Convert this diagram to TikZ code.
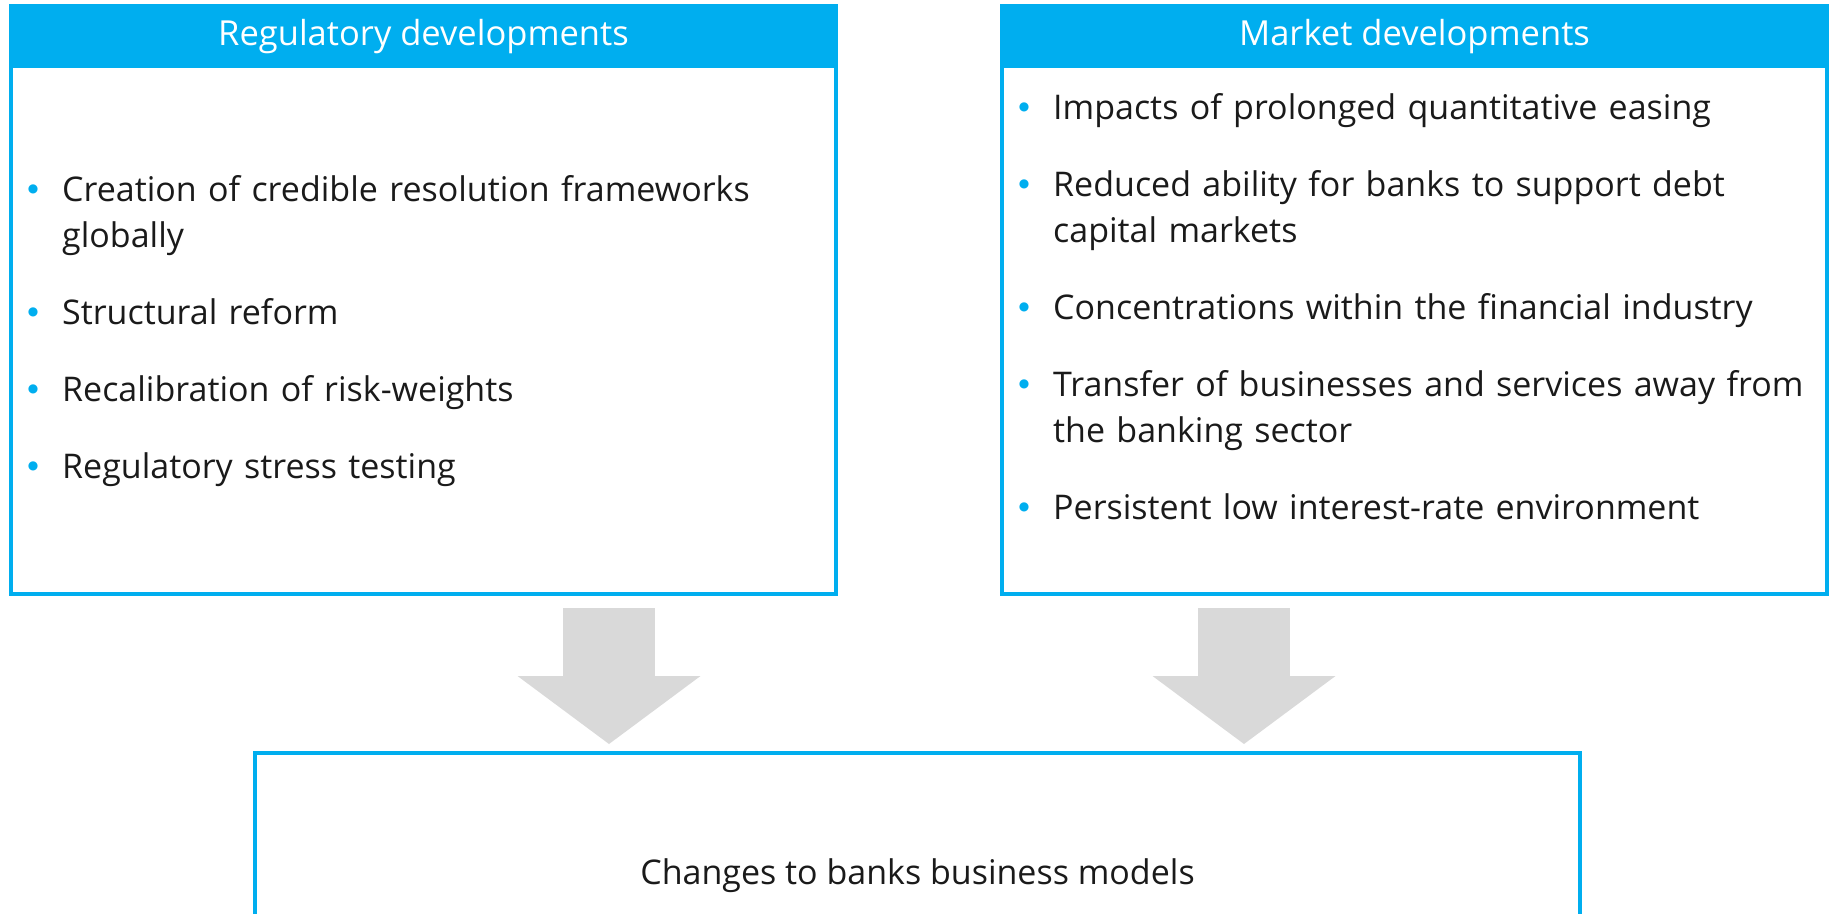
\documentclass[tikz,border=0pt]{standalone}
\usepackage{fontspec}
\setmainfont{Open Sans}
\newfontfamily\dotfont{DejaVu Sans}
\usetikzlibrary{arrows.meta,positioning}

\definecolor{brandblue}{HTML}{00AEEF}
\definecolor{arrowgrey}{HTML}{D9D9D9}
\definecolor{bodytext}{HTML}{1A1A1A}

% bullet list used inside the two panels
\newenvironment{pointlist}
  {\begin{list}{\makebox[0pt][c]{\raisebox{9pt}{\textcolor{brandblue}{\dotfont\fontsize{12}{12}\selectfont ●}}}}%
    {\setlength\leftmargin{29pt}\setlength\labelwidth{0pt}\setlength\labelsep{29pt}%
     \setlength\itemindent{0pt}\setlength\itemsep{31pt}\setlength\parsep{0pt}%
     \setlength\topsep{0pt}\setlength\partopsep{0pt}}}
  {\end{list}}

\begin{document}
\begin{tikzpicture}[x=1pt,y=-1pt,
    panel/.style={draw=brandblue, line width=4pt, minimum width=825pt, minimum height=588pt, anchor=north west, inner sep=0pt},
    heading/.style={fill=brandblue, text=white, minimum width=829pt, minimum height=64pt, anchor=north, inner sep=0pt, font=\fontsize{34.5}{40}\selectfont},
    points/.style={anchor=north west, inner sep=0pt, text width=790pt, align=left, text=bodytext, font=\fontsize{34}{46}\selectfont},
    fatarrow/.style={draw=arrowgrey, line width=92pt, -{Triangle[width=183pt,length=68pt,line width=0pt]}}]
  \useasboundingbox (0,0) rectangle (1831,913);

  % the two input panels
  \node[panel] (reg) at (9,4) {};
  \node[panel] (mkt) at (1000,4) {};
  \node[heading] (reghead) at (reg.north) {Regulatory developments};
  \node[heading] (mkthead) at (mkt.north) {Market developments};

  \node[points] (reglist) at (33,155) {\begin{pointlist}
      \item Creation of credible resolution frameworks\newline globally
      \item Structural reform
      \item Recalibration of risk-weights
      \item Regulatory stress testing
    \end{pointlist}};
  \node[points] (mktlist) at (1024,73) {\begin{pointlist}
      \item Impacts of prolonged quantitative easing
      \item Reduced ability for banks to support debt\newline capital markets
      \item Concentrations within the financial industry
      \item Transfer of businesses and services away from\newline the banking sector
      \item Persistent low interest-rate environment
    \end{pointlist}};

  % outcome box
  \node[draw=brandblue, line width=4pt, minimum width=1325pt, minimum height=246pt, text=bodytext,
        font=\fontsize{34}{40}\selectfont] (chg) at (917.5,876) {Changes to banks business models};

  % grey block arrows into the outcome
  \coordinate (regx) at (609,0);
  \coordinate (mktx) at (1244,0);
  \draw[fatarrow, shorten <=12pt, shorten >=7pt] (reg.south -| regx) -- (chg.north -| regx);
  \draw[fatarrow, shorten <=12pt, shorten >=7pt] (mkt.south -| mktx) -- (chg.north -| mktx);
\end{tikzpicture}
\end{document}
